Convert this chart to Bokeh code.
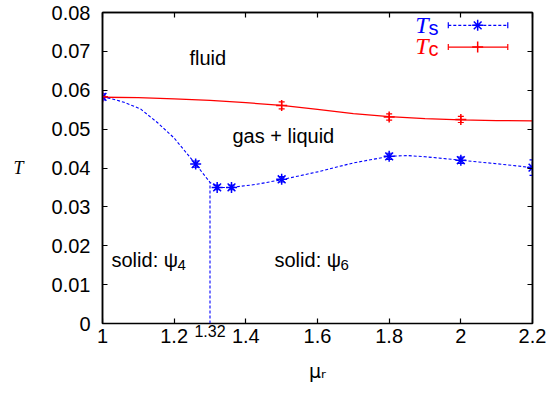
from bokeh.plotting import figure
from bokeh.models import (Range1d, LinearAxis, FixedTicker, Label, Whisker,
                          TeeHead, ColumnDataSource)
from bokeh.embed import file_html
from bokeh.resources import INLINE

# ---------------- data ----------------
x_ticks = [1.0, 1.2, 1.4, 1.6, 1.8, 2.0, 2.2]
x_tick_labels = ["1", "1.2", "1.4", "1.6", "1.8", "2", "2.2"]
y_ticks = [0.0, 0.01, 0.02, 0.03, 0.04, 0.05, 0.06, 0.07, 0.08]
y_tick_labels = ["0", "0.01", "0.02", "0.03", "0.04", "0.05", "0.06", "0.07", "0.08"]

# T_s measured points (blue asterisks) with error bars
ts_mu = [1.00, 1.26, 1.32, 1.36, 1.50, 1.80, 2.00, 2.20]
ts_T = [0.0583, 0.0410, 0.0350, 0.0350, 0.0371, 0.0430, 0.0420, 0.0401]
ts_err = [0.0008, 0.0008, 0.0006, 0.0006, 0.0007, 0.0008, 0.0008, 0.0020]

# T_s guide curve (blue dashed)
ts_curve_mu = [1.00, 1.03, 1.06, 1.106, 1.153, 1.199, 1.26, 1.30, 1.32, 1.36,
               1.43, 1.50, 1.60, 1.70, 1.80, 1.85, 1.90, 2.00, 2.10, 2.20]
ts_curve_T = [0.0583, 0.0577, 0.0569, 0.0552, 0.0517, 0.0478, 0.0410, 0.0363,
              0.0350, 0.0350, 0.0358, 0.0370, 0.0390, 0.0413, 0.0430, 0.0432,
              0.0429, 0.0420, 0.0411, 0.0401]

# T_c measured points (red crosses) with error bars
tc_mu = [1.00, 1.50, 1.80, 2.00]
tc_T = [0.0583, 0.0561, 0.0531, 0.0525]
tc_err = [0.0003, 0.0009, 0.0008, 0.0008]

# T_c guide curve (red solid)
tc_curve_mu = [1.0, 1.1, 1.2, 1.3, 1.4, 1.5, 1.6, 1.7, 1.8, 1.9, 2.0, 2.1, 2.2]
tc_curve_T = [0.0582, 0.0581, 0.0578, 0.0574, 0.0568, 0.0561, 0.0551, 0.0540,
              0.0532, 0.0527, 0.0524, 0.0522, 0.0521]

# solid psi4 / psi6 boundary
boundary_mu = [1.30]
boundary_T_top = [0.0363]
boundary_label = "1.32"

region_texts = ["fluid", "gas + liquid"]
solid_texts = ["solid: \u03c8", "solid: \u03c8"]
solid_subs = ["4", "6"]
legend_names = ["T", "T"]
legend_subs = ["s", "c"]
x_title = "\u03bc\u1d63"
y_title = "T"

BLUE = "#0000ff"
RED = "#ff0000"
SANS = "Liberation Sans"
SERIF = "Liberation Serif"

W, H = 546, 394
p = figure(width=W, height=H, output_backend="svg", toolbar_location=None,
           x_range=Range1d(1.0, 2.2), y_range=Range1d(0.0, 0.08),
           min_border_left=102, min_border_right=14, min_border_top=12,
           min_border_bottom=71, background_fill_color="white",
           border_fill_color="white")
p.grid.visible = False
p.outline_line_color = "black"
p.outline_line_width = 1.5

xa = p.xaxis[0]
ya = p.yaxis[0]
xa.ticker = FixedTicker(ticks=x_ticks)
xa.major_label_overrides = dict(zip(x_ticks, x_tick_labels))
ya.ticker = FixedTicker(ticks=y_ticks)
ya.major_label_overrides = dict(zip(y_ticks, y_tick_labels))
for ax in (xa, ya):
    ax.major_tick_in = 5
    ax.major_tick_out = 0
    ax.minor_tick_in = 0
    ax.minor_tick_out = 0
    ax.axis_line_width = 1.5
    ax.major_tick_line_width = 1.2
    ax.major_label_text_font = SANS
    ax.major_label_text_font_size = "20px"
    ax.major_label_text_color = "black"
ya.major_label_standoff = 12

# bottom axis labels sit below a thin row that holds the boundary value
xa.axis_line_color = None
xa.major_tick_line_color = None
xa.major_tick_in = 0
xa.major_label_standoff = -11

ya.axis_label = y_title
ya.axis_label_text_font = SERIF
ya.axis_label_text_font_style = "italic"
ya.axis_label_text_font_size = "18px"
ya.axis_label_text_color = "black"
ya.axis_label_standoff = 25
ya.axis_label_orientation = "horizontal"

xa.axis_label = x_title
xa.axis_label_text_font = "DejaVu Sans"
xa.axis_label_text_font_style = "normal"
xa.axis_label_text_font_size = "19px"
xa.axis_label_text_color = "black"
xa.axis_label_standoff = 14

# boundary value row (closest to the frame)
b_axis = LinearAxis(ticker=FixedTicker(ticks=boundary_mu),
                    major_label_overrides={boundary_mu[0]: boundary_label},
                    major_label_text_font=SANS, major_label_text_font_size="16px",
                    major_label_text_color="black", major_label_standoff=1,
                    axis_line_color=None, major_tick_line_color=None,
                    minor_tick_line_color=None, major_tick_in=0, major_tick_out=0,
                    minor_tick_in=0, minor_tick_out=0)


def tick_axis(ticks, **kw):
    return LinearAxis(ticker=FixedTicker(ticks=ticks), major_label_text_font_size="1px",
                      major_label_text_color=None, major_label_standoff=0,
                      major_tick_in=5, major_tick_out=0, minor_tick_in=0,
                      minor_tick_out=0, axis_line_width=1.5, major_tick_line_width=1.2, **kw)


bottom_ticks = tick_axis(x_ticks, fixed_location=0.0, axis_line_color=None)
p.below = [b_axis, xa, bottom_ticks]

# mirrored ticks on top and right
p.add_layout(tick_axis(x_ticks), "above")
p.add_layout(tick_axis(y_ticks), "right")

# curves
p.line(tc_curve_mu, tc_curve_T, line_color=RED, line_width=1.3)
p.line(ts_curve_mu, ts_curve_T, line_color=BLUE, line_width=1.1, line_dash="3 2")
p.segment(x0=boundary_mu, y0=[0.0] * len(boundary_mu), x1=boundary_mu,
          y1=boundary_T_top, line_color=BLUE, line_width=1.1, line_dash="3 2")


def bars(xs, ys, es, color):
    src = ColumnDataSource(dict(x=xs, y=ys,
                                lo=[t - e for t, e in zip(ys, es)],
                                hi=[t + e for t, e in zip(ys, es)]))
    p.add_layout(Whisker(source=src, base="x", lower="lo", upper="hi", dimension="height",
                         line_color=color, line_width=1.2,
                         upper_head=TeeHead(size=6, line_color=color, line_width=1.2),
                         lower_head=TeeHead(size=6, line_color=color, line_width=1.2)))
    return src


ts_src = bars(ts_mu, ts_T, ts_err, BLUE)
tc_src = bars(tc_mu, tc_T, tc_err, RED)

p.scatter("x", "y", source=ts_src, marker="asterisk", size=11, line_color=BLUE, line_width=1.5)
p.scatter("x", "y", source=tc_src, marker="cross", size=11, line_color=RED, line_width=1.5)

# ---------------- in-frame text (page pixel positions of baselines) ----------------
FL, FB = 102, 323  # frame left / bottom on the page
DY = 8             # baseline correction


def lab(px, py, text, size="20px", font=SANS, style="normal", color="black",
        align="left", baseline="alphabetic"):
    p.add_layout(Label(x=px - FL, y=FB - py + DY, x_units="screen", y_units="screen",
                       text=text, text_font=font, text_font_size=size,
                       text_font_style=style, text_color=color, text_align=align,
                       text_baseline=baseline))


lab(189, 65, region_texts[0])
lab(232, 143, region_texts[1])
lab(111, 267, solid_texts[0])
lab(177, 272, solid_subs[0], size="15px")
lab(274, 267, solid_texts[1])
lab(340, 272, solid_subs[1], size="15px")

# legend (text first, then sample with error caps)
leg_colors = [BLUE, RED]
leg_base = [32, 53]
for i in range(2):
    lab(428, leg_base[i], legend_names[i], size="24px", font=SERIF, style="italic",
        color=leg_colors[i], align="right")
    lab(428, leg_base[i] + 3, legend_subs[i], size="20px", color=leg_colors[i])

leg_y = [0.0767, 0.0711]
leg_x0, leg_x1, leg_xm = 1.965, 2.131, 2.047
for i, (col, dash, lw, mk) in enumerate([(BLUE, "3 2", 1.1, "asterisk"),
                                         (RED, "solid", 1.3, "cross")]):
    p.add_layout(Whisker(source=ColumnDataSource(dict(y=[leg_y[i]], lo=[leg_x0], hi=[leg_x1])),
                         base="y", lower="lo", upper="hi", dimension="width",
                         line_color=col, line_width=lw, line_dash=dash,
                         upper_head=TeeHead(size=6, line_color=col, line_width=1.2),
                         lower_head=TeeHead(size=6, line_color=col, line_width=1.2)))
    p.scatter([leg_xm], [leg_y[i]], marker=mk, size=11, line_color=col, line_width=1.5)

open("out.html", "w").write(file_html(p, INLINE))
